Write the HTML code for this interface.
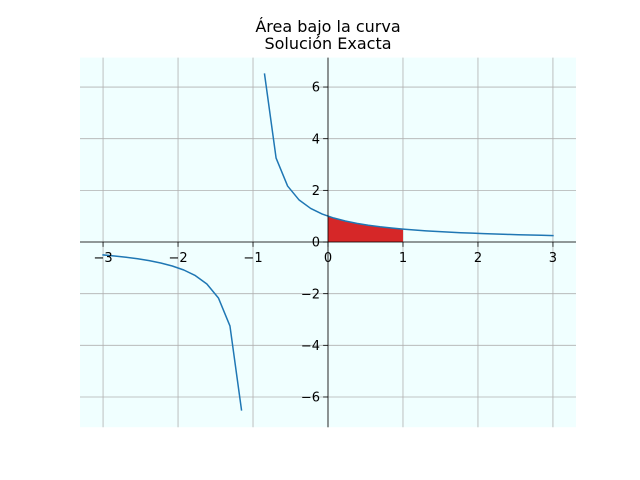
<!DOCTYPE html>
<html><head><meta charset="utf-8"><style>
html,body{margin:0;padding:0;background:#fff;}
svg{display:block;font-family:"DejaVu Sans","Liberation Sans",sans-serif;}
</style></head><body>
<svg id="chart" width="640" height="480" viewBox="0 0 640 480">
<rect x="0" y="0" width="640" height="480" fill="#fff"/>
<text x="328" y="32" text-anchor="middle" font-size="16">Área bajo la curva</text>
<text x="328" y="49" text-anchor="middle" font-size="16">Solución Exacta</text>
<g id="plot"></g>
</svg>
<script>
const xVals=[-3,-2.8462,-2.6923,-2.5385,-2.3846,-2.2308,-2.0769,-1.9231,-1.7692,-1.6154,-1.4615,-1.3077,-1.1538,-1,-0.8462,-0.6923,-0.5385,-0.3846,-0.2308,-0.0769,0.0769,0.2308,0.3846,0.5385,0.6923,0.8462,1,1.1538,1.3077,1.4615,1.6154,1.7692,1.9231,2.0769,2.2308,2.3846,2.5385,2.6923,2.8462,3];
const yVals=[-0.5,-0.5417,-0.5909,-0.65,-0.7222,-0.8125,-0.9286,-1.0833,-1.3,-1.625,-2.1667,-3.25,-6.5,null,6.5,3.25,2.1667,1.625,1.3,1.0833,0.9286,0.8125,0.7222,0.65,0.5909,0.5417,0.5,0.4643,0.4333,0.40625,0.3824,0.3611,0.3421,0.325,0.3095,0.2955,0.2826,0.2708,0.26,0.25];
const fillX=[0,0.125,0.25,0.375,0.5,0.625,0.75,0.875,1];
const fillY=[1,0.8889,0.8,0.7273,0.6667,0.6154,0.5714,0.5333,0.5];
const xTicks=[-3,-2,-1,0,1,2,3];
const yTicks=[-6,-4,-2,0,2,4,6];
const xTickLabels=["−3","−2","−1","0","1","2","3"];
const yTickLabels=["−6","−4","−2","0","2","4","6"];

const L=80,R=576,T=57.6,B=427.2;
const xmin=-3.3075,xmax=3.3075,ymin=-7.17,ymax=7.14;
const sx=v=>L+(v-xmin)/(xmax-xmin)*(R-L);
const sy=v=>B-(v-ymin)/(ymax-ymin)*(B-T);
const NS="http://www.w3.org/2000/svg";
const g=document.getElementById('plot');
function mk(tag,attrs){const e=document.createElementNS(NS,tag);for(const k in attrs)e.setAttribute(k,attrs[k]);g.appendChild(e);return e;}

let bg=mk('rect',{x:L,y:T,width:R-L,height:B-T,fill:'#f0ffff'});



xTicks.forEach((v,i)=>{
 const gl=mk('line',{x1:sx(v),x2:sx(v),y1:T,y2:B,stroke:'#b0b0b0','stroke-width':0.8});
 
 
});
yTicks.forEach((v,i)=>{
 const gl=mk('line',{x1:L,x2:R,y1:sy(v),y2:sy(v),stroke:'#b0b0b0','stroke-width':0.8});
 
 
});

let fp='M'+sx(fillX[0])+','+sy(0);
fillX.forEach((x,i)=>{fp+=' L'+sx(x)+','+sy(fillY[i]);});
fp+=' L'+sx(fillX[fillX.length-1])+','+sy(0)+' Z';
const fa=mk('path',{d:fp,fill:'#d62728'});



let d='',pen=false;
xVals.forEach((x,i)=>{const y=yVals[i];if(y===null||!isFinite(y)){pen=false;return;}
 d+=(pen?' L':' M')+sx(x).toFixed(2)+','+sy(y).toFixed(2);pen=true;});
const cv=mk('path',{d:d,fill:'none',stroke:'#1f77b4','stroke-width':1.5,'stroke-linejoin':'round','stroke-linecap':'square'});



const x0=sx(0),y0=sy(0);
const ls=mk('line',{x1:x0,x2:x0,y1:T,y2:B,stroke:'#000','stroke-width':0.8});


const bs=mk('line',{x1:L,x2:R,y1:y0,y2:y0,stroke:'#000','stroke-width':0.8});



xTicks.forEach((v,i)=>{
 const t=mk('line',{x1:sx(v),x2:sx(v),y1:y0,y2:y0+4.9,stroke:'#000','stroke-width':0.8});
 
 
 const tx=mk('text',{x:sx(v),y:y0+20,'text-anchor':'middle','font-size':13});
 tx.textContent=xTickLabels[i];
 
 
});
yTicks.forEach((v,i)=>{
 const t=mk('line',{x1:x0-4.9,x2:x0,y1:sy(v),y2:sy(v),stroke:'#000','stroke-width':0.8});
 
 
 const tx=mk('text',{x:x0-8,y:sy(v)+4.7,'text-anchor':'end','font-size':13});
 tx.textContent=yTickLabels[i];
 
 
});
</script>
</body></html>
